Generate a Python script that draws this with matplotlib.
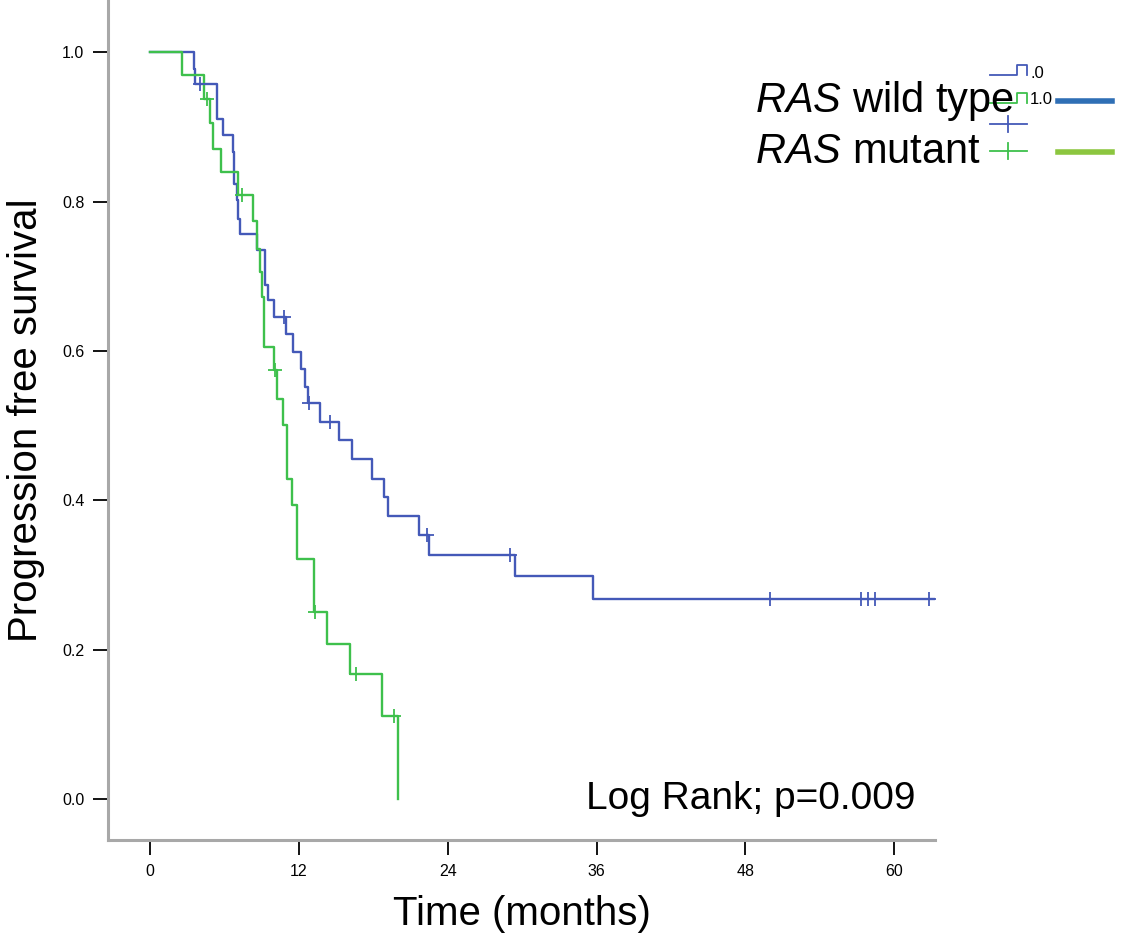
import matplotlib
matplotlib.use("Agg")
import matplotlib.pyplot as plt
from matplotlib.lines import Line2D

plt.rcParams['font.family'] = ['Liberation Sans', 'DejaVu Sans']
plt.rcParams['mathtext.fontset'] = 'custom'
plt.rcParams['mathtext.rm'] = 'Liberation Sans'
plt.rcParams['mathtext.it'] = 'Liberation Sans:italic'

# RAS wild type (blue), step points
wt_time = [0, 3.5, 3.63, 5.43, 5.9, 6.67, 6.75, 6.98, 7.1, 7.26, 8.6, 9.3, 9.54,
           9.95, 10.95, 11.56, 12.2, 12.5, 12.77, 13.7, 15.2, 16.3, 17.9, 18.9,
           19.2, 21.7, 22.45, 29.4, 35.7, 63.4]
wt_surv = [1.0, 0.978, 0.957, 0.911, 0.889, 0.866, 0.824, 0.802, 0.777, 0.757,
           0.735, 0.688, 0.668, 0.646, 0.623, 0.599, 0.576, 0.552, 0.530, 0.505,
           0.481, 0.455, 0.429, 0.405, 0.379, 0.354, 0.327, 0.298, 0.268, 0.268]
wt_cens_time = [4.0, 10.8, 12.85, 14.5, 22.35, 29.0, 50.0, 57.3, 57.9, 58.5, 62.8]
wt_cens_surv = [0.957, 0.646, 0.530, 0.505, 0.354, 0.327, 0.268, 0.268, 0.268,
                0.268, 0.268]

# RAS mutant (green)
mut_time = [0, 2.6, 4.35, 4.84, 5.05, 5.73, 7.12, 8.3, 8.6, 8.87, 9.0, 9.2, 9.95,
            10.27, 10.7, 11.0, 11.4, 11.83, 13.2, 14.25, 16.1, 18.7, 20.0]
mut_surv = [1.0, 0.969, 0.938, 0.905, 0.871, 0.840, 0.809, 0.774, 0.737, 0.706,
            0.672, 0.605, 0.574, 0.536, 0.501, 0.429, 0.394, 0.322, 0.251, 0.208,
            0.167, 0.111, 0.0]
mut_cens_time = [4.6, 7.4, 10.1, 13.3, 16.6, 19.7]
mut_cens_surv = [0.938, 0.809, 0.574, 0.251, 0.167, 0.111]

xticks = [0, 12, 24, 36, 48, 60]
yticks = [0.0, 0.2, 0.4, 0.6, 0.8, 1.0]

blue = "#4459b8"
green = "#3ec04c"

W, H = 1124, 940
fig = plt.figure(figsize=(W / 100, H / 100), dpi=100)
ax = fig.add_axes([108 / W, 1 - 840 / H, (935 - 108) / W, 840 / H])


def fx(px):
    return px / W


def fy(py):
    return 1 - py / H


ax.step(wt_time, wt_surv, where="post", color=blue, lw=1.7)
ax.step(mut_time, mut_surv, where="post", color=green, lw=1.7)
ax.plot(wt_cens_time, wt_cens_surv, ls="none", marker="+", ms=10, mew=1.3, color=blue)
ax.plot(mut_cens_time, mut_cens_surv, ls="none", marker="+", ms=10, mew=1.3, color=green)

ax.set_xlim(-3.4, 63.3)
ax.set_ylim(-0.055, 1.07)
ax.set_xticks(xticks)
ax.set_xticklabels([str(t) for t in xticks])
ax.set_yticks(yticks)
ax.set_yticklabels(["%.1f" % v for v in yticks])
ax.tick_params(axis="both", direction="out", length=11, width=1.3, color="black",
               labelsize=11.5, pad=6)

for side in ["top", "right"]:
    ax.spines[side].set_visible(False)
for side in ["left", "bottom"]:
    ax.spines[side].set_color("#a8a8a8")
    ax.spines[side].set_linewidth(2.2)

ax.set_xlabel("Time (months)", fontsize=29, labelpad=12)
ax.set_ylabel("Progression free survival", fontsize=29, labelpad=12)

ax.text(61.7, 0.0, "Log Rank; p=0.009", ha="right", va="center", fontsize=28)

# SPSS style legend, drawn in figure pixels
def leg_line(xs, ys, color, lw):
    fig.add_artist(Line2D([fx(v) for v in xs], [fy(v) for v in ys], color=color,
                          lw=lw, transform=fig.transFigure))


leg_line([990, 1017, 1017, 1027, 1027], [75, 75, 65, 65, 75], blue, 1.3)
leg_line([990, 1017, 1017, 1027, 1027], [103, 103, 93, 93, 103], green, 1.3)
leg_line([990, 1027], [124, 124], blue, 1.3)
leg_line([1008, 1008], [116, 132], blue, 1.3)
leg_line([990, 1027], [151, 151], green, 1.3)
leg_line([1008, 1008], [143, 159], green, 1.3)
leg_line([1058, 1112], [101, 101], "#2f6fb5", 4)
leg_line([1058, 1112], [152, 152], "#8cc63f", 4)

fig.text(fx(1031), fy(73), ".0", fontsize=12, va="center", ha="left")
fig.text(fx(1030), fy(100), "1.0", fontsize=12, va="center", ha="left")
fig.text(fx(755), fy(101), r"$\it{RAS}$ wild type", fontsize=30, va="center", ha="left")
fig.text(fx(755), fy(152), r"$\it{RAS}$ mutant", fontsize=30, va="center", ha="left")

fig.savefig("out.png", dpi=100)
